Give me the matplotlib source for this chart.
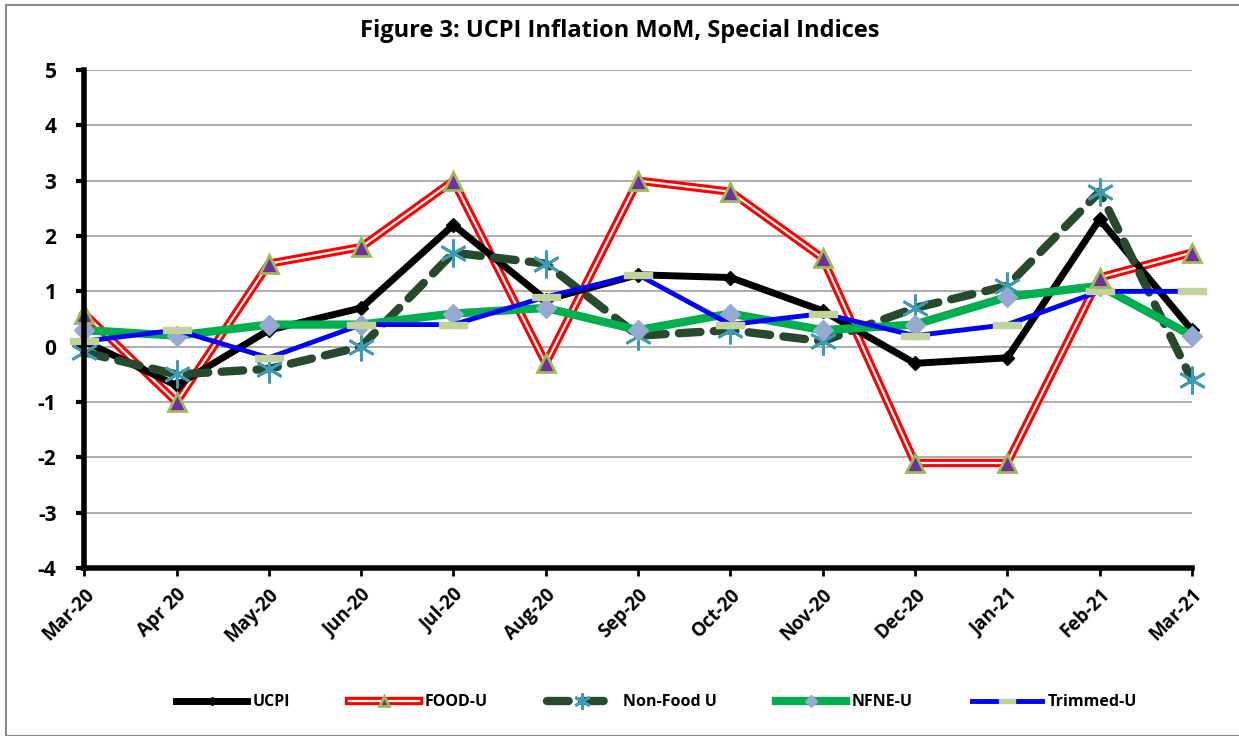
import numpy as np
import matplotlib
matplotlib.use("Agg")
import matplotlib.pyplot as plt
import matplotlib.patheffects as pe
from matplotlib.patches import Rectangle

months = ["Mar-20", "Apr 20", "May-20", "Jun-20", "Jul-20", "Aug-20", "Sep-20",
          "Oct-20", "Nov-20", "Dec-20", "Jan-21", "Feb-21", "Mar-21"]
ucpi = [0.1, -0.7, 0.3, 0.7, 2.2, 0.85, 1.3, 1.25, 0.65, -0.3, -0.2, 2.3, 0.3]
food = [0.6, -1.0, 1.5, 1.8, 3.0, -0.3, 3.0, 2.8, 1.6, -2.1, -2.1, 1.25, 1.7]
nonfood = [-0.1, -0.5, -0.4, 0.0, 1.7, 1.5, 0.2, 0.3, 0.1, 0.7, 1.1, 2.8, -0.6]
nfne = [0.3, 0.2, 0.4, 0.4, 0.6, 0.7, 0.3, 0.6, 0.3, 0.4, 0.9, 1.1, 0.2]
trimmed = [0.1, 0.3, -0.2, 0.4, 0.4, 0.9, 1.3, 0.4, 0.6, 0.2, 0.4, 1.0, 1.0]

plt.rcParams["font.family"] = ["Open Sans", "DejaVu Sans"]
plt.rcParams["axes.unicode_minus"] = False
x = np.arange(len(months))

fig = plt.figure(figsize=(12.39, 7.36), dpi=100)
ax = fig.add_axes([0.068, 0.228, 0.894, 0.677])

# grey frame round the chart area
fig.patches.append(Rectangle((0.005, 0.0), 1.2, 0.993, transform=fig.transFigure,
                             fill=False, ec="#8c8c8c", lw=1.5))

bar = [(-2.2, -0.55), (2.2, -0.55), (2.2, 0.55), (-2.2, 0.55), (-2.2, -0.55)]

h_ucpi, = ax.plot(x, ucpi, color="black", lw=5, marker="D", ms=7, mfc="black",
                  mec="black", zorder=3, clip_on=False)
food_line, = ax.plot(x, food, color="white", lw=1.6, zorder=2, clip_on=False,
                     path_effects=[pe.Stroke(linewidth=6, foreground="red"), pe.Normal()])
food_mk, = ax.plot(x, food, ls="none", marker="^", ms=13, mfc="#7030A0",
                   mec="#9BBB59", mew=2, zorder=5, clip_on=False)
h_nf, = ax.plot(x, nonfood, color="#264A2B", lw=6, dashes=(2.6, 1.6),
                dash_capstyle="round", marker=(6, 2, 0), ms=20, mec="#3C9BB5",
                mew=2, zorder=3, clip_on=False)
h_nfne, = ax.plot(x, nfne, color="#00B050", lw=6, marker="D", ms=10,
                  mfc="#95A9D3", mec="#95A9D3", zorder=4, clip_on=False)
h_tr, = ax.plot(x, trimmed, color="#0000FF", lw=3.5, marker=bar, ms=20,
                mfc="#BFD39A", mec="#BFD39A", zorder=4, clip_on=False)

ax.set_ylim(-4, 5)
ax.set_xlim(0, 12)
ax.set_yticks(range(-4, 6))
ax.set_xticks(x)
ax.set_xticklabels(months, rotation=45, ha="right", rotation_mode="anchor",
                   fontsize=13.5, fontweight="bold")
for t in ax.get_yticklabels():
    t.set_fontsize(15)
    t.set_fontweight("bold")
ax.grid(axis="y", color="#a6a6a6", lw=1.3)
ax.set_axisbelow(True)
ax.spines[["top", "right"]].set_visible(False)
ax.spines["left"].set_linewidth(4)
ax.spines["bottom"].set_linewidth(4)
ax.spines["left"].set_zorder(6)
ax.tick_params(axis="y", direction="out", length=6, width=3, pad=14)
ax.tick_params(axis="x", direction="out", length=6, width=2, pad=6)

fig.text(0.5, 0.958, "Figure 3: UCPI Inflation MoM, Special Indices", ha="center",
         va="center", fontsize=17, fontweight="bold")

leg = fig.legend([h_ucpi, (food_line, food_mk), h_nf, h_nfne, h_tr],
                 ["UCPI", "FOOD-U", "Non-Food U", "NFNE-U", "Trimmed-U"],
                 loc="center", bbox_to_anchor=(0.53, 0.046), ncol=5, frameon=False,
                 handlelength=4.4, columnspacing=3.7, handletextpad=0.35,
                 prop={"weight": "bold", "size": 11.5}, markerscale=0.6)

fig.savefig("out.png", dpi=100)
